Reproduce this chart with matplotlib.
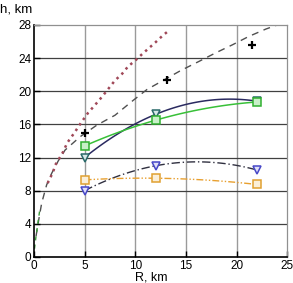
import numpy as np
import matplotlib
matplotlib.use('Agg')
import matplotlib.pyplot as plt

plt.rcParams['font.family'] = ['Liberation Sans', 'DejaVu Sans']

# dashed curve
dash_r = [0.2, 0.5, 0.76, 1.25, 1.75, 2.4, 3.07, 4.55, 6.2, 8.0, 9.8, 11.15, 14.5, 16.3, 17.9, 19.6, 21.2, 22.9, 24.5]
dash_h = [2.5, 4.7, 6.5, 8.7, 10.1, 11.6, 12.9, 14.5, 15.9, 17.1, 18.9, 20.2, 22.5, 23.6, 24.6, 25.6, 26.6, 27.5, 28.2]

# dotted curve
dot_r = [1.35, 1.9, 2.1, 2.8, 3.3, 4.0, 4.65, 5.35, 6.0, 6.7, 7.35, 8.0, 8.7, 9.3, 10.0, 10.7, 11.35, 12.0, 12.7, 13.4]
dot_h = [8.9, 10.3, 11.1, 12.5, 13.8, 15.0, 16.2, 17.4, 18.3, 19.3, 20.3, 21.3, 22.1, 23.0, 23.7, 24.5, 25.2, 25.9, 26.7, 27.4]

# short green dashed piece near the origin
grn_r = [0.05, 0.2, 0.55]
grn_h = [1.0, 2.5, 5.5]

# plus markers
plus_r = [5.0, 13.1, 21.5]
plus_h = [15.0, 21.35, 25.6]

R = [5, 12, 22]
h_tri_up = [12.0, 17.2, 18.8]
h_sq_up = [13.4, 16.5, 18.7]
h_tri_lo = [8.0, 11.0, 10.5]
h_sq_lo = [9.3, 9.5, 8.75]

fig = plt.figure(figsize=(2.93, 2.83), dpi=100)
ax = fig.add_axes([0.116, 0.092, 0.864, 0.82])

ax.set_xlim(0, 25)
ax.set_ylim(0, 28)
ax.set_xticks([0, 5, 10, 15, 20, 25])
ax.set_yticks([0, 4, 8, 12, 16, 20, 24, 28])

for x in [5, 10, 15, 20]:
    ax.axvline(x, color='#9a9a9a', lw=1.0, zorder=0)
for y in [4, 8, 12, 16, 20, 24]:
    ax.axhline(y, color='#404040', lw=0.9, zorder=0)

ax.plot(dash_r, dash_h, ls=(0, (5, 4)), color='#505050', lw=1.0)
ax.plot(dot_r, dot_h, ls=':', color='#a04858', lw=1.8)
ax.plot(grn_r, grn_h, ls=(0, (3, 3)), color='#3a9a3a', lw=1.0)
ax.plot(plus_r, plus_h, ls='none', marker='+', ms=6, mew=1.6, color='black')

xs = np.linspace(5, 22, 60)


def curve(hs):
    return np.polyval(np.polyfit(R, hs, 2), xs)


ax.plot(xs, curve(h_tri_up), color='#2a2a60', lw=1.1)
ax.plot(R, h_tri_up, ls='none', marker='v', ms=5.5, mfc='#d8e8e8', mec='#2a6a6a', mew=1.1)

ax.plot(xs, curve(h_sq_up), color='#38c038', lw=1.1)
ax.plot(R, h_sq_up, ls='none', marker='s', ms=5.5, mfc='#c8f0c8', mec='#30b030', mew=1.1)

ax.plot(xs, curve(h_tri_lo), color='#303040', lw=1.0, ls=(0, (6, 2, 1, 2)))
ax.plot(R, h_tri_lo, ls='none', marker='v', ms=5.5, mfc='#e0e0f8', mec='#4848c8', mew=1.1)

ax.plot(xs, curve(h_sq_lo), color='#e8a030', lw=1.0, ls=(0, (5, 1.5, 1, 1.5, 1, 1.5)))
ax.plot(R, h_sq_lo, ls='none', marker='s', ms=5.5, mfc='#fbefd8', mec='#e0a030', mew=1.1)

for side in ['left', 'bottom']:
    ax.spines[side].set_color('black')
    ax.spines[side].set_linewidth(1.2)
for side in ['top', 'right']:
    ax.spines[side].set_color('#909090')
    ax.spines[side].set_linewidth(0.9)

ax.tick_params(direction='in', length=4, width=1, labelsize=8.5, pad=2)

fig.text(0.0, 0.965, 'h, km', fontsize=9.5, ha='left', va='center')
fig.text(0.515, 0.018, 'R, km', fontsize=9, ha='center', va='center')

fig.savefig('out.png', dpi=100)
